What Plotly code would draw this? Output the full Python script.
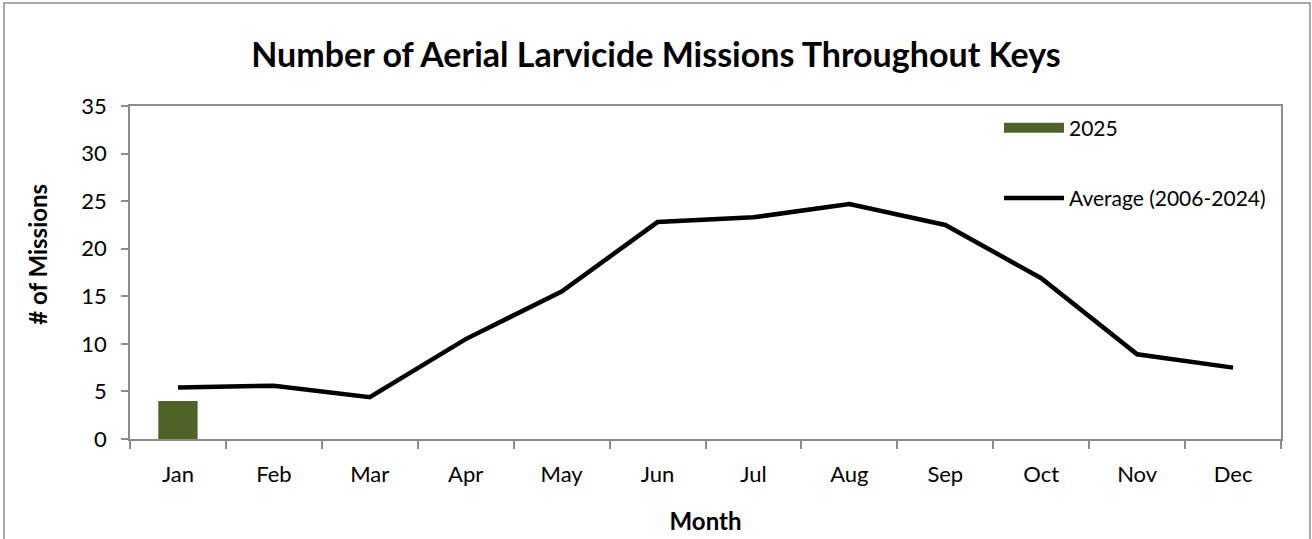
import plotly.graph_objects as go

months = ["Jan", "Feb", "Mar", "Apr", "May", "Jun", "Jul", "Aug", "Sep", "Oct", "Nov", "Dec"]
missions_2025 = [4, None, None, None, None, None, None, None, None, None, None, None]
average_2006_2024 = [5.4, 5.6, 4.4, 10.5, 15.5, 22.8, 23.3, 24.7, 22.5, 16.9, 8.9, 7.5]

FONT = "Lato, 'Open Sans', sans-serif"
GRID = "#8c8c8c"
GREEN = "#4f6228"

fig = go.Figure()
fig.add_trace(go.Bar(x=months, y=missions_2025, name="2025", showlegend=False,
                     marker=dict(color=GREEN, line=dict(width=0)), width=0.41))
# legend entry for the bars, drawn as a wide block like the original
fig.add_trace(go.Scatter(x=[None], y=[None], name="2025", legendgroup="a", mode="lines",
                         line=dict(color=GREEN, width=14)))
fig.add_trace(go.Scatter(x=months, y=average_2006_2024, name="Average (2006-2024)",
                         legendgroup="b", mode="lines", line=dict(color="black", width=4.5)))

fig.update_layout(
    width=1312, height=539,
    margin=dict(l=130, r=31, t=106, b=100),
    paper_bgcolor="white", plot_bgcolor="white",
    font=dict(family=FONT, size=22, color="black"),
    title=dict(text="<b>Number of Aerial Larvicide Missions Throughout Keys</b>",
               x=0.5, xanchor="center", y=0.898, yanchor="middle", automargin=False,
               font=dict(size=34, family=FONT)),
    showlegend=True,
    legend=dict(x=0.755, y=0.995, xanchor="left", yanchor="top",
                bgcolor="rgba(0,0,0,0)", traceorder="grouped", tracegroupgap=40,
                font=dict(size=21), itemwidth=60),
    shapes=[dict(type="rect", xref="paper", yref="paper",
                 x0=-0.1095, x1=1.0252, y0=-0.33, y1=1.309,
                 line=dict(color=GRID, width=1.5), layer="below")],
    # y title sits a bit above the plot centre in the original, so place it by hand
    annotations=[dict(text="<b># of Missions</b>", textangle=-90, showarrow=False,
                      xref="paper", yref="paper", x=-0.08, y=0.556,
                      xanchor="center", yanchor="middle", font=dict(size=24))],
)
fig.update_xaxes(
    title=dict(text="<b>Month</b>", font=dict(size=24), standoff=27),
    automargin=False,
    showline=True, linecolor=GRID, linewidth=1.5, mirror=True,
    ticks="outside", tickson="boundaries", ticklen=8, tickcolor=GRID, tickwidth=1.5,
    showgrid=False, ticklabelstandoff=15,
)
fig.update_yaxes(
    automargin=False,
    range=[0, 35], dtick=5,
    showline=True, linecolor=GRID, linewidth=1.5, mirror=True,
    ticks="outside", ticklen=7, tickcolor=GRID, tickwidth=1.5,
    showgrid=False, zeroline=False, ticklabelstandoff=10,
)

fig.write_html("out.html", config={"displayModeBar": False},
               post_script="document.body.style.margin='0';")
